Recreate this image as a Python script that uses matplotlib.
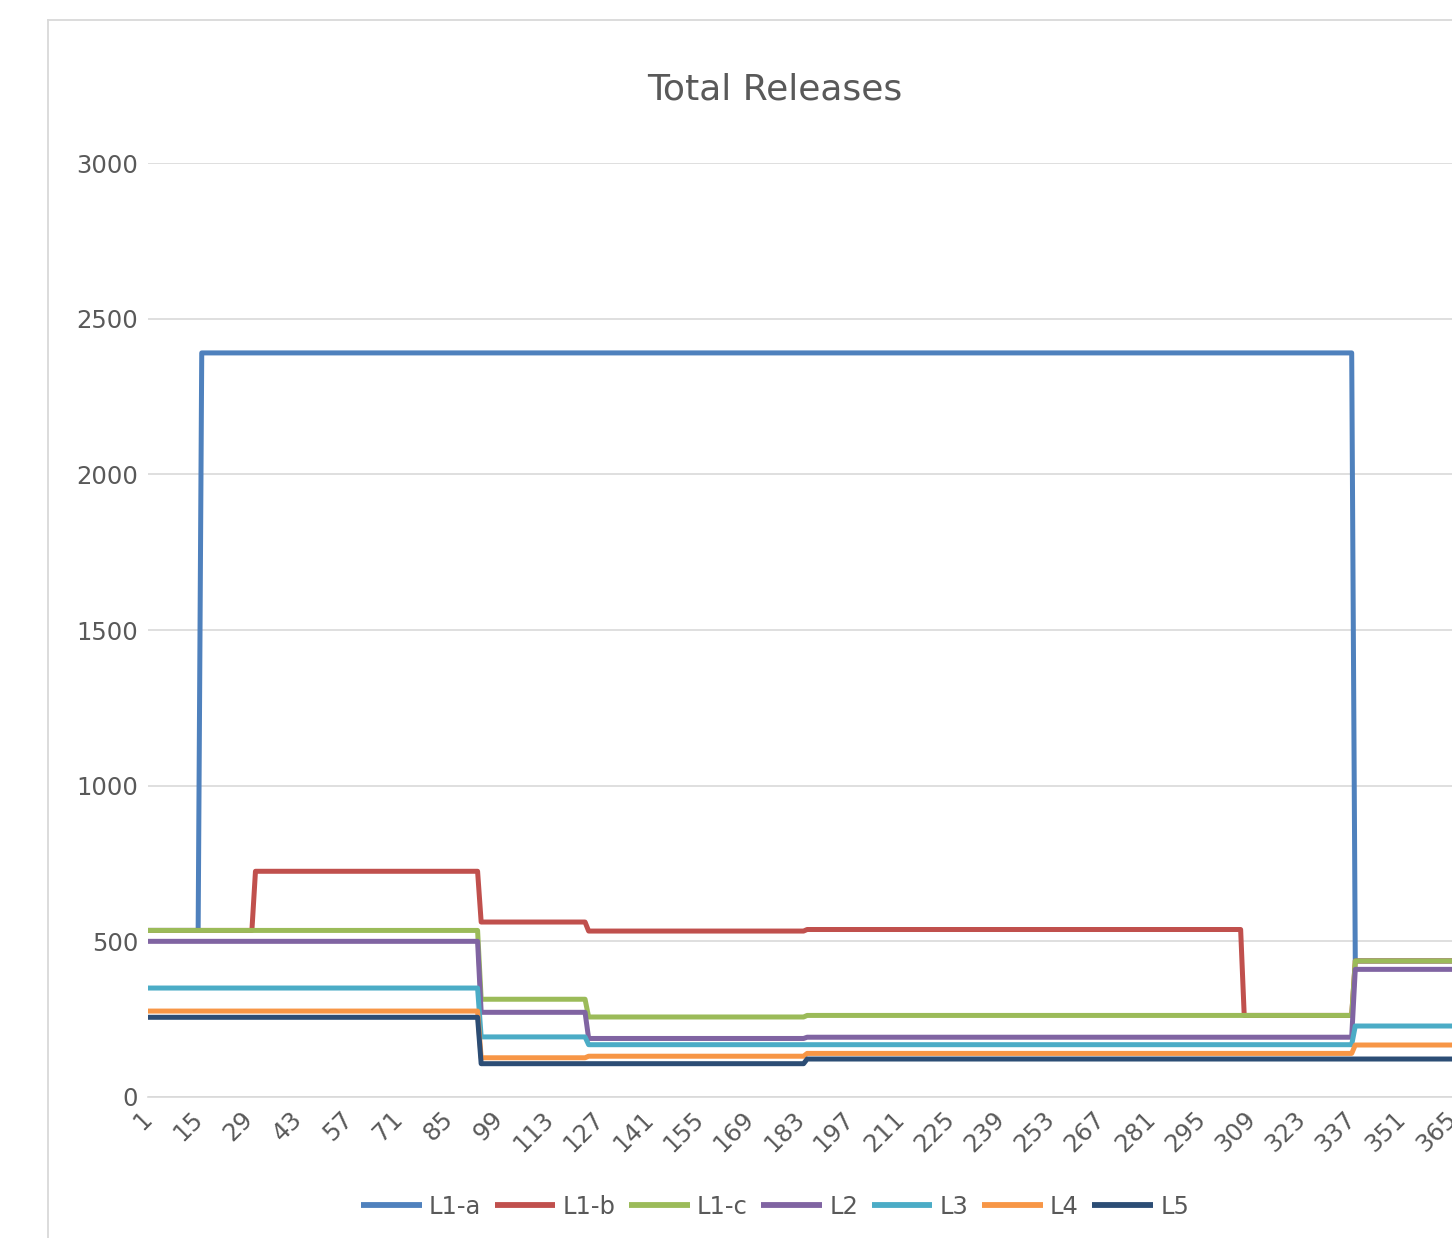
import numpy as np
import matplotlib
matplotlib.use("Agg")
import matplotlib.pyplot as plt
from matplotlib.lines import Line2D
import matplotlib.transforms as mtransforms

# step series: level values and how many days each level lasts (365 days total)
series_names = ["L1-a", "L1-b", "L1-c", "L2", "L3", "L4", "L5"]
levels = {
    "L1-a": [535, 2390, 437],
    "L1-b": [535, 725, 562, 533, 538, 262, 437],
    "L1-c": [535, 314, 257, 262, 437],
    "L2":   [500, 272, 188, 192, 410],
    "L3":   [350, 193, 168, 228],
    "L4":   [276, 126, 131, 140, 167],
    "L5":   [256, 107, 122],
}
runs = {
    "L1-a": [15, 322, 28],
    "L1-b": [30, 63, 30, 61, 122, 31, 28],
    "L1-c": [93, 30, 61, 153, 28],
    "L2":   [93, 30, 61, 153, 28],
    "L3":   [93, 30, 214, 28],
    "L4":   [93, 30, 61, 153, 28],
    "L5":   [93, 91, 181],
}
colors = ["#4F81BD", "#C0504D", "#9BBB59", "#8064A2", "#4BACC6", "#F79646", "#2C4D75"]
days = np.arange(1, 366)
tick_days = list(range(1, 366, 14))

W, H = 1452, 1238
fig = plt.figure(figsize=(W / 100, H / 100), dpi=100, facecolor="white")
ax = fig.add_axes([148 / W, (H - 1097) / H, 1 - 148 / W, (1097 - 163) / H])

for name, c in zip(series_names, colors):
    vals = np.repeat(levels[name], runs[name])
    ax.plot(days, vals, color=c, lw=3.6, label=name,
            solid_joinstyle="round", solid_capstyle="butt", zorder=3)

ax.set_xlim(1, 365)
ax.set_ylim(0, 3000)
ax.set_yticks(range(0, 3001, 500))
ax.set_xticks(tick_days)
ax.set_xticklabels([str(d) for d in tick_days], rotation=45, ha="right",
                   va="top", rotation_mode="anchor")
ax.grid(axis="y", color="#d9d9d9", lw=1.2, zorder=0)
for s in ["top", "right", "left"]:
    ax.spines[s].set_visible(False)
ax.spines["bottom"].set_color("#d9d9d9")
ax.spines["bottom"].set_linewidth(1.2)
ax.tick_params(axis="both", length=0, colors="#595959", labelsize=17.5)
ax.tick_params(axis="y", pad=7)
ax.tick_params(axis="x", pad=7)
off = mtransforms.ScaledTranslation(-8 / 100, 0, fig.dpi_scale_trans)
for lab in ax.get_xticklabels():
    lab.set_transform(lab.get_transform() + off)

fig.text(775 / W, 1 - 90 / H, "Total Releases", ha="center", va="center",
         fontsize=26, color="#595959")

leg = fig.legend(loc="center", bbox_to_anchor=(775 / W, 1 - 1207 / H), ncol=7,
                 frameon=False, fontsize=17.5, handlelength=2.5,
                 handletextpad=0.3, columnspacing=0.55)
for t in leg.get_texts():
    t.set_color("#595959")
for h in leg.get_lines():
    h.set_linewidth(4.2)

# chart area border
bx, by = 48 / W, 1 - 20 / H
fig.add_artist(Line2D([bx, bx], [0, by], transform=fig.transFigure, color="#d9d9d9", lw=1.3))
fig.add_artist(Line2D([bx, 1], [by, by], transform=fig.transFigure, color="#d9d9d9", lw=1.3))

fig.savefig("out.png", dpi=100, facecolor="white")
